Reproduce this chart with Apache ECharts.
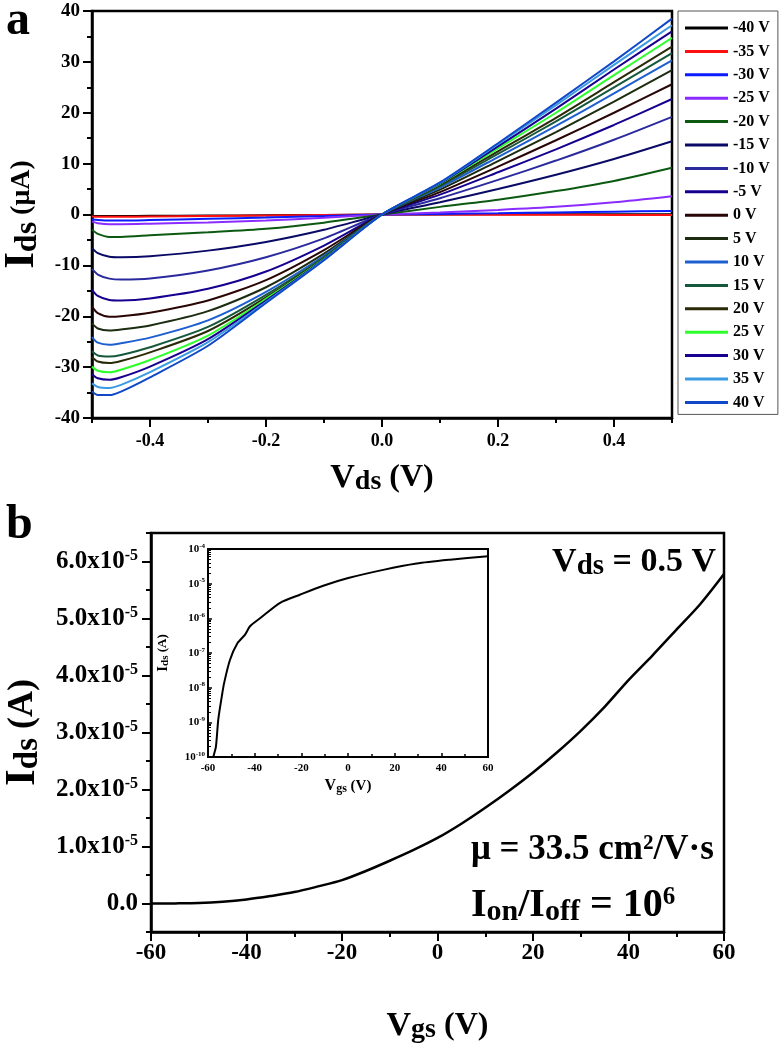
<!DOCTYPE html>
<html><head><meta charset="utf-8">
<script src="https://cdn.jsdelivr.net/npm/echarts@6/dist/echarts.min.js"></script>
<style>html,body{margin:0;padding:0;background:#fff}#c{width:779px;height:1060px}</style>
</head><body><div id="c"></div>
<script>
// ---------- Panel a data: Ids (uA) vs Vds (V) at several gate voltages ----------
const vdsPoints = [-0.5,-0.49,-0.47,-0.45,-0.4,-0.3,-0.2,-0.1,0,0.1,0.2,0.3,0.4,0.5];
const gateLabels = ['-40 V','-35 V','-30 V','-25 V','-20 V','-15 V','-10 V','-5 V','0 V','5 V','10 V','15 V','20 V','25 V','30 V','35 V','40 V'];
const gateColors = ['#000000','#ff1010','#0a1cff','#8a2cff','#0c5a12','#0a0a66','#2a2a9e','#16008f','#2a0505','#1c2c10','#1e5fd0','#16583c','#2a2a08','#2cff2c','#1a0090','#3a9ae2','#1048c8'];
const ids_m40 = [-0.3,-0.3,-0.3,-0.3,-0.25,-0.2,-0.15,-0.08,0,0.02,0.03,0.04,0.05,0.06];
const ids_m35 = [-0.4,-0.45,-0.45,-0.45,-0.4,-0.3,-0.2,-0.1,0,-0.02,-0.04,-0.06,-0.08,-0.1];
const ids_m30 = [-1.0,-1.1,-1.2,-1.2,-1.1,-0.85,-0.6,-0.3,0,0.12,0.25,0.4,0.55,0.7];
const ids_m25 = [-1.4,-1.7,-1.9,-1.9,-1.8,-1.55,-1.2,-0.65,0,0.4,0.9,1.5,2.4,3.6];
const ids_m20 = [-3.0,-3.8,-4.4,-4.4,-4.1,-3.5,-2.8,-1.6,0,1.5,2.9,4.6,6.6,9.2];
const ids_m15 = [-6.6,-7.6,-8.3,-8.4,-8.2,-7.1,-5.4,-3.0,0,2.4,5.0,7.8,10.9,14.4];
const ids_m10 = [-10.7,-11.8,-12.6,-12.8,-12.6,-11.0,-8.4,-4.7,0,3.2,6.8,10.6,14.7,19.2];
const ids_m5  = [-14.8,-16.0,-16.8,-16.9,-16.5,-14.6,-11.2,-6.1,0,3.9,8.3,12.8,17.6,22.7];
const ids_0   = [-18.1,-19.4,-20.1,-20.0,-19.3,-16.9,-12.9,-7.0,0,4.4,9.4,14.6,20.0,25.6];
const ids_p5  = [-21.4,-22.4,-22.8,-22.6,-21.8,-19.0,-14.3,-7.7,0,4.9,10.5,16.2,22.2,28.4];
const ids_p10 = [-24.1,-25.2,-25.6,-25.3,-24.2,-20.8,-15.2,-8.1,0,5.3,11.3,17.4,23.8,30.3];
const ids_p15 = [-26.9,-27.7,-27.9,-27.6,-26.1,-22.1,-15.8,-8.4,0,5.6,11.9,18.3,25.0,31.7];
const ids_p20 = [-28.0,-28.9,-29.2,-28.8,-27.1,-22.9,-16.3,-8.6,0,5.8,12.4,19.0,26.0,33.0];
const ids_p25 = [-29.9,-30.7,-31.0,-30.5,-28.6,-23.8,-16.6,-8.7,0,6.0,13.0,20.0,27.4,34.7];
const ids_p30 = [-31.4,-32.2,-32.5,-32.0,-29.9,-24.5,-16.9,-8.8,0,6.1,13.4,20.8,28.5,36.0];
const ids_p35 = [-33.2,-33.9,-34.1,-33.5,-31.0,-25.1,-17.2,-8.9,0,6.2,13.8,21.5,29.4,37.2];
const ids_p40 = [-34.8,-35.5,-35.5,-34.8,-32.0,-25.8,-17.4,-9.0,0,6.3,14.0,22.0,30.1,38.5];
const curvesA = [ids_m40,ids_m35,ids_m30,ids_m25,ids_m20,ids_m15,ids_m10,ids_m5,ids_0,ids_p5,ids_p10,ids_p15,ids_p20,ids_p25,ids_p30,ids_p35,ids_p40];
const vdsTickLabels = [-0.4,-0.2,0,0.2,0.4];

// ---------- Panel b data: transfer curve at Vds = 0.5 V ----------
const vgsB = [-60,-55,-50,-45,-40,-35,-30,-25,-20,-15,-10,-5,0,5,10,15,20,25,30,35,40,45,50,55,60];
const idsB = [0,2e-8,8e-8,3e-7,7e-7,1.3e-6,2.0e-6,3.0e-6,4.1e-6,5.7e-6,7.5e-6,9.4e-6,1.15e-5,1.4e-5,1.68e-5,1.98e-5,2.3e-5,2.65e-5,3.03e-5,3.45e-5,3.92e-5,4.35e-5,4.8e-5,5.25e-5,5.78e-5];
const idsTickLabels = [0,1e-5,2e-5,3e-5,4e-5,5e-5,6e-5];
// inset (log scale)
const vgsLog = [-58.3,-57.7,-56.6,-55.6,-54.1,-53.1,-50.6,-47.4,-44.1,-42,-37.7,-29.1,-20.6,-10.6,0.1,15.1,29.4,43.7,60];
const idsLog = [5e-11,1e-10,2e-10,1.2e-9,5.5e-9,1.35e-8,6.3e-8,1.9e-7,3.4e-7,5.9e-7,1.0e-6,2.8e-6,4.8e-6,8.7e-6,1.45e-5,2.5e-5,3.8e-5,4.9e-5,6.2e-5];

const SERIF = '"Liberation Serif","Times New Roman",serif';
const B = {fontFamily: SERIF, fontWeight: 'bold', color: '#000'};

function nameRich(big, sub, unit, s) {
  return {
    text: '{i|' + big + '}{s|' + sub + '}{u|' + unit + '}',
    rich: {
      i: Object.assign({}, B, {fontSize: s[0], lineHeight: s[3], verticalAlign: 'middle'}),
      s: Object.assign({}, B, {fontSize: s[1], lineHeight: s[4], verticalAlign: 'bottom'}),
      u: Object.assign({}, B, {fontSize: s[2], lineHeight: s[3], verticalAlign: 'middle'})
    }
  };
}
const aY = nameRich('I', 'ds', ' (μA)', [43, 32, 28, 44, 14]);
const aX = nameRich('V', 'ds', ' (V)', [34, 28, 32, 36, 12]);
const bY = nameRich('I', 'ds', ' (A)', [43, 33, 36, 44, 14]);
const bX = nameRich('V', 'gs', ' (V)', [34, 28, 32, 36, 12]);
const iY = nameRich('I', 'ds', ' (A)', [15, 11, 13, 16, 7]);
const iX = nameRich('V', 'gs', ' (V)', [16, 12, 15, 18, 8]);

const noBounds = {outerBoundsMode: 'none', containLabel: false};
const gridA = Object.assign({left: 92, top: 11, width: 580, height: 407}, noBounds);
const gridB = Object.assign({left: 151, top: 533, width: 573, height: 399}, noBounds);
const gridI = Object.assign({left: 208, top: 549, width: 280, height: 208}, noBounds);
const box = {show: true, borderColor: '#000', borderWidth: 2.5, backgroundColor: 'transparent'};

const axLine = {show: true, onZero: false, lineStyle: {color: '#000', width: 2.5}};
const noSplit = {show: false};

const seriesA = curvesA.map((arr, i) => ({
  name: gateLabels[i], type: 'line', xAxisIndex: 0, yAxisIndex: 0,
  data: vdsPoints.map((x, j) => [x, arr[j]]),
  symbol: 'none', smooth: 0.25,
  lineStyle: {width: 2, color: gateColors[i]}, itemStyle: {color: gateColors[i]}, z: 3
}));

const option = {
  animation: false,
  backgroundColor: '#fff',
  grid: [
    Object.assign({}, gridA, box),
    Object.assign({}, gridB, box),
    Object.assign({}, gridI, box, {backgroundColor: '#fff', borderWidth: 2}),
    Object.assign({}, gridA, {show: false}),
    Object.assign({}, gridB, {show: false})
  ],
  legend: {
    orient: 'vertical', left: 678, top: 11,
    data: gateLabels, icon: 'rect', itemWidth: 43, itemHeight: 3, itemGap: 7.4,
    padding: [9, 8, 4, 7], borderColor: '#555', borderWidth: 1, backgroundColor: '#fff',
    textStyle: {fontFamily: SERIF, fontWeight: 'bold', fontSize: 16, lineHeight: 16, color: '#000'},
    selectedMode: false
  },
  xAxis: [
    { // panel a
      gridIndex: 0, type: 'value', min: -0.5, max: 0.5, interval: 0.1,
      axisLine: axLine, splitLine: noSplit,
      axisTick: {show: true, length: 5, lineStyle: {width: 2, color: '#000'}},
      axisLabel: {customValues: vdsTickLabels, formatter: v => v.toFixed(1), margin: 14, fontFamily: SERIF, fontWeight: 'bold', fontSize: 18, color: '#000'},
      name: aX.text, nameLocation: 'middle', nameGap: 42, nameTextStyle: {rich: aX.rich}
    },
    { // panel b
      gridIndex: 1, type: 'value', min: -60, max: 60, interval: 20,
      axisLine: axLine, splitLine: noSplit,
      axisTick: {show: true, length: 9, lineStyle: {width: 2, color: '#000'}},
      minorTick: {show: true, splitNumber: 2, length: 5, lineStyle: {width: 2, color: '#000'}},
      axisLabel: {margin: 10, fontFamily: SERIF, fontWeight: 'bold', fontSize: 23, color: '#000'},
      name: bX.text, nameLocation: 'middle', nameGap: 76, nameTextStyle: {rich: bX.rich}
    },
    { // inset
      gridIndex: 2, type: 'value', min: -60, max: 60, interval: 20,
      axisLine: Object.assign({}, axLine, {lineStyle: {color: '#000', width: 2}}), splitLine: noSplit,
      axisTick: {show: true, inside: true, length: 4, lineStyle: {width: 1.5, color: '#000'}},
      minorTick: {show: true, splitNumber: 2, length: 3, lineStyle: {width: 1.5, color: '#000'}},
      axisLabel: {margin: 6, fontFamily: SERIF, fontWeight: 'bold', fontSize: 11, color: '#000'},
      name: iX.text, nameLocation: 'middle', nameGap: 20, nameTextStyle: {rich: iX.rich}
    },
    { // long ticks for panel a
      gridIndex: 3, type: 'value', min: -0.5, max: 0.5, interval: 0.1, position: 'bottom',
      axisLine: {show: false, onZero: false}, splitLine: noSplit, axisLabel: {show: false},
      axisTick: {show: true, customValues: vdsTickLabels, length: 9, lineStyle: {width: 2, color: '#000'}}
    },
    {gridIndex: 4, type: 'value', min: -60, max: 60, show: false, axisLine: {onZero: false}}
  ],
  yAxis: [
    { // panel a
      gridIndex: 0, type: 'value', min: -40, max: 40, interval: 10,
      axisLine: axLine, splitLine: noSplit,
      axisTick: {show: true, length: 9, lineStyle: {width: 2, color: '#000'}},
      minorTick: {show: true, splitNumber: 2, length: 5, lineStyle: {width: 2, color: '#000'}},
      axisLabel: {margin: 12, fontFamily: SERIF, fontWeight: 'bold', fontSize: 19, color: '#000'},
      name: aY.text, nameLocation: 'middle', nameRotate: 90, nameGap: 43, nameTextStyle: {rich: aY.rich}
    },
    { // panel b
      gridIndex: 1, type: 'value', min: -5e-6, max: 6.5e-5, interval: 5e-6,
      axisLine: axLine, splitLine: noSplit,
      axisTick: {show: true, length: 5, lineStyle: {width: 2, color: '#000'}},
      axisLabel: {
        customValues: idsTickLabels, margin: 13,
        formatter: v => Math.abs(v) < 1e-12 ? '{b|0.0}' : '{b|' + (v * 1e5).toFixed(1) + 'x10}{p|-5}',
        rich: {
          b: {fontFamily: SERIF, fontWeight: 'bold', fontSize: 25, lineHeight: 28, verticalAlign: 'middle', color: '#000'},
          p: {fontFamily: SERIF, fontWeight: 'bold', fontSize: 16, lineHeight: 14, verticalAlign: 'top', color: '#000'}
        }
      },
      name: bY.text, nameLocation: 'middle', nameRotate: 90, nameGap: 84, nameTextStyle: {rich: bY.rich}
    },
    { // inset (log)
      gridIndex: 2, type: 'log', logBase: 10, min: 1e-10, max: 1e-4,
      axisLine: Object.assign({}, axLine, {lineStyle: {color: '#000', width: 2}}), splitLine: noSplit,
      axisTick: {show: true, inside: true, length: 4, lineStyle: {width: 1.5, color: '#000'}},
      minorTick: {show: true, splitNumber: 9, length: 3, lineStyle: {width: 1, color: '#000'}},
      axisLabel: {
        margin: 3,
        formatter: v => '{b|10}{p|' + Math.round(Math.log10(v)) + '}',
        rich: {
          b: {fontFamily: SERIF, fontWeight: 'bold', fontSize: 11, lineHeight: 13, verticalAlign: 'middle', color: '#000'},
          p: {fontFamily: SERIF, fontWeight: 'bold', fontSize: 7, lineHeight: 7, verticalAlign: 'top', color: '#000'}
        }
      },
      name: iY.text, nameLocation: 'middle', nameRotate: 90, nameGap: 37, nameTextStyle: {rich: iY.rich}
    },
    {gridIndex: 3, type: 'value', min: -40, max: 40, show: false, axisLine: {onZero: false}},
    { // long ticks for panel b y
      gridIndex: 4, type: 'value', min: -5e-6, max: 6.5e-5, interval: 5e-6, position: 'left',
      axisLine: {show: false, onZero: false}, splitLine: noSplit, axisLabel: {show: false},
      axisTick: {show: true, customValues: idsTickLabels, length: 9, lineStyle: {width: 2, color: '#000'}}
    }
  ],
  series: seriesA.concat([
    {
      name: 'transfer', type: 'line', xAxisIndex: 1, yAxisIndex: 1,
      data: vgsB.map((x, j) => [x, idsB[j]]), symbol: 'none', smooth: 0.3,
      lineStyle: {width: 2.5, color: '#000'}, z: 2
    },
    {
      name: 'transferLog', type: 'line', xAxisIndex: 2, yAxisIndex: 2,
      data: vgsLog.map((x, j) => [x, idsLog[j]]), symbol: 'none', smooth: 0.25,
      lineStyle: {width: 2, color: '#000'}, z: 5
    }
  ]),
  graphic: [
    {type: 'text', x: 6, y: -2, z: 10, style: {text: 'a', fontFamily: SERIF, fontWeight: 'bold', fontSize: 48, fill: '#000'}},
    {type: 'text', x: 6, y: 502, z: 10, style: {text: 'b', fontFamily: SERIF, fontWeight: 'bold', fontSize: 48, fill: '#000'}},
    {type: 'text', x: 716, y: 562, z: 10, style: {
      text: '{i|V}{s|ds}{i| = 0.5 V}', align: 'right', verticalAlign: 'middle', textAlign: 'right', textVerticalAlign: 'middle',
      rich: {
        i: Object.assign({}, B, {fontSize: 34, lineHeight: 38, verticalAlign: 'middle', fill: '#000'}),
        s: Object.assign({}, B, {fontSize: 29, lineHeight: 12, verticalAlign: 'bottom', fill: '#000'})
      }}},
    {type: 'text', x: 471, y: 850, z: 10, style: {
      text: 'μ = 33.5 cm²/V·s', fontFamily: SERIF, fontWeight: 'bold', fontSize: 35, fill: '#000',
      verticalAlign: 'middle', textVerticalAlign: 'middle'}},
    {type: 'text', x: 471, y: 906, z: 10, style: {
      text: '{i|I}{s|on}{i|/I}{s|off}{i| = 10}{p|6}', verticalAlign: 'middle', textVerticalAlign: 'middle',
      rich: {
        i: Object.assign({}, B, {fontSize: 40, lineHeight: 42, verticalAlign: 'middle', fill: '#000'}),
        s: Object.assign({}, B, {fontSize: 30, lineHeight: 10, verticalAlign: 'bottom', fill: '#000'}),
        p: Object.assign({}, B, {fontSize: 25, lineHeight: 22, verticalAlign: 'top', fill: '#000'})
      }}}
  ]
};
const chart = echarts.init(document.getElementById('c'));
chart.setOption(option);
</script>
</body></html>
